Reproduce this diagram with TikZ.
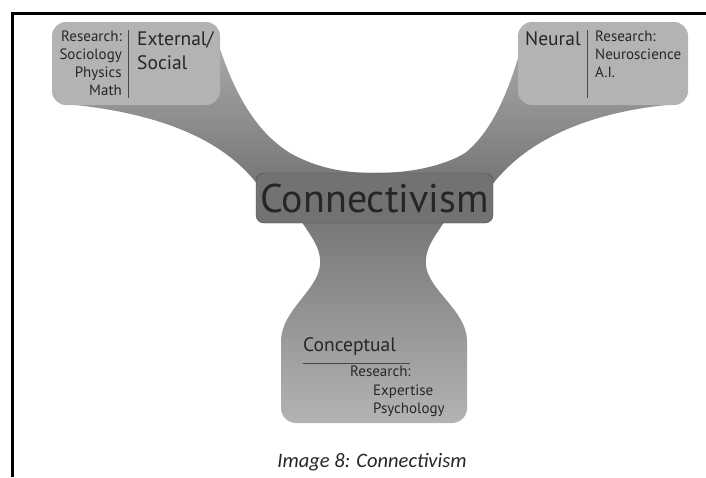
\documentclass[tikz,border=0pt]{standalone}
\usepackage{fontspec}
\setmainfont{PT Sans}
\newfontfamily\capfont{Carlito}
\usetikzlibrary{positioning}
\definecolor{boxgray}{HTML}{B3B3B3}
\definecolor{armlight}{HTML}{B0B0B0}
\definecolor{armdark}{HTML}{767676}
\definecolor{hubgray}{HTML}{727272}
\definecolor{inkgray}{HTML}{262626}
\tikzset{
  pad/.style={fill=boxgray,rounded corners=14pt},
  small/.style={font=\fontsize{15}{18}\selectfont,text=inkgray,inner sep=0pt},
  big/.style={font=\fontsize{19.5}{24}\selectfont,text=inkgray,inner sep=0pt},
  divider/.style={draw=inkgray!85,line width=0.8pt},
  hub/.style={draw=black!70,fill=hubgray,rounded corners=8pt,minimum width=237pt,
    minimum height=50pt,inner sep=0pt,font=\fontsize{40}{40}\selectfont,text=black!85},
}

\begin{document}
\begin{tikzpicture}[x=1pt,y=-1pt]
    \useasboundingbox[fill=white] (0,0) rectangle (706,477);
    \draw[line width=3pt] (12,477) -- (12,13) -- (706,13);

    \shade[top color=armlight,bottom color=armdark]
        (75,24) -- (212,24) .. controls (226,70) and (245,125) .. (290,153)
        .. controls (320,170) and (350,173) .. (375,173)
        .. controls (405,173) and (440,168) .. (465,153)
        .. controls (500,125) and (515,70) .. (528,24) -- (675,24) -- (678,104)
        .. controls (600,110) and (530,135) .. (492,185) -- (258,185)
        .. controls (220,135) and (150,112) .. (66,104) -- cycle;
    \shade[top color=armdark,middle color=boxgray,bottom color=boxgray]
        (298,215) .. controls (305,230) and (322,245) .. (320,265)
        .. controls (318,290) and (282,310) .. (281,340)
        [rounded corners=15pt] -- (281,423) -- (467,423) [sharp corners] -- (467,340)
        .. controls (466,310) and (428,290) .. (426,265)
        .. controls (424,245) and (441,230) .. (448,215) -- cycle;

    \fill[pad] (52,22) rectangle (220,105);
    \fill[pad] (518,22) rectangle (688,105);

    \node (hub) [hub] at (374.5,198) {Connectivism};

    % external / social
    \node (extres) [small,align=right,anchor=north east] at (122,31) {Research:\\Sociology\\Physics\\Math};
    \draw[divider] (128,30) coordinate (exttop) -- (128,98) coordinate (extbot);
    \node (ext) [big,align=left,anchor=north west] at (137,31) {External/\\Social};

    % neural
    \node (neural) [big,anchor=north west] at (525,31) {Neural};
    \draw[divider] (587,30) coordinate (neutop) -- (587,98) coordinate (neubot);
    \node (neures) [small,align=left,anchor=north west] at (595,31) {Research:\\Neuroscience\\A.I.};

    % conceptual
    \node (concept) [big,anchor=north west] at (303,337) {Conceptual};
    \draw[divider] (303,363) coordinate (conleft) -- (410,363) coordinate (conright);
    \node (conres) [small,anchor=north west] at (350,366) {Research:};
    \node (conlist) [small,align=left,anchor=north west] at (373,385) {Expertise\\Psychology};

    \node (caption) [font=\capfont\itshape\fontsize{20.5}{24}\selectfont,text=inkgray,anchor=base]
        at (372,467) {Image 8: Connectivism};
\end{tikzpicture}
\end{document}
